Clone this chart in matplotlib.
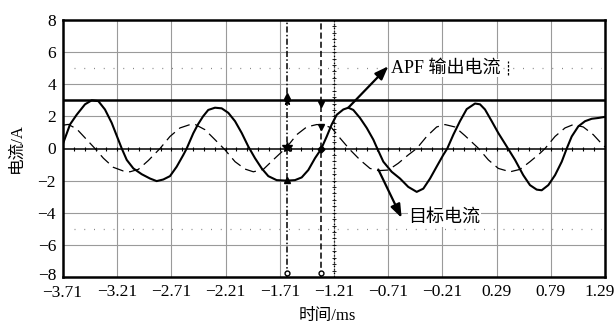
import numpy as np
import matplotlib
matplotlib.use("Agg")
import matplotlib.pyplot as plt
import matplotlib.transforms as mtransforms

# ---------------- data ----------------
x_ticks = [-3.71, -3.21, -2.71, -2.21, -1.71, -1.21, -0.71, -0.21, 0.29, 0.79, 1.29]
x_tick_labels = ["−3.71", "−3.21", "−2.71", "−2.21", "−1.71", "−1.21", "−0.71", "−0.21", "0.29", "0.79", "1.29"]
y_ticks = [-8, -6, -4, -2, 0, 2, 4, 6, 8]
y_tick_labels = ["−8", "−6", "−4", "−2", "0", "2", "4", "6", "8"]

# APF output current (solid)
apf_t = [-3.71, -3.645, -3.584, -3.507, -3.445, -3.384, -3.323, -3.261, -3.200, -3.168,
         -3.122, -3.061, -2.984, -2.907, -2.846, -2.785, -2.723, -2.661, -2.600, -2.569,
         -2.508, -2.465, -2.418, -2.370, -2.308, -2.246, -2.185, -2.123, -2.061, -2.001,
         -1.939, -1.877, -1.816, -1.739, -1.646, -1.570, -1.508, -1.447, -1.385, -1.330,
         -1.277, -1.231, -1.185, -1.124, -1.078, -1.032, -0.970, -0.908, -0.847, -0.811,
         -0.755, -0.678, -0.601, -0.525, -0.447, -0.386, -0.324, -0.263, -0.202, -0.165,
         -0.109, -0.048, 0.014, 0.091, 0.137, 0.183, 0.245, 0.306, 0.383, 0.460,
         0.536, 0.598, 0.660, 0.706, 0.767, 0.829, 0.891, 0.937, 0.983, 1.044,
         1.106, 1.167, 1.228, 1.29]
apf_i = [0.3, 1.5, 2.1, 2.75, 3.0, 2.95, 2.43, 1.6, 0.55, 0.0,
         -0.71, -1.24, -1.6, -1.87, -2.03, -1.93, -1.72, -1.13, -0.4, 0.0,
         0.95, 1.5, 2.0, 2.4, 2.54, 2.5, 2.22, 1.7, 0.96, 0.13,
         -0.6, -1.24, -1.72, -1.97, -2.0, -1.97, -1.8, -1.34, -0.6, -0.05,
         0.75, 1.5, 2.1, 2.43, 2.54, 2.4, 1.9, 1.28, 0.55, 0.0,
         -0.82, -1.45, -1.87, -2.39, -2.7, -2.5, -1.87, -1.13, -0.4, 0.0,
         0.86, 1.7, 2.45, 2.8, 2.75, 2.43, 1.7, 0.96, 0.13, -0.71,
         -1.66, -2.28, -2.56, -2.6, -2.28, -1.66, -0.82, 0.0, 0.75, 1.38,
         1.7, 1.85, 1.9, 1.97]

# target current (dashed)
ref_t = [-3.71, -3.661, -3.584, -3.491, -3.415, -3.338, -3.246, -3.154, -3.092, -3.015,
         -2.923, -2.815, -2.723, -2.631, -2.538, -2.492, -2.400, -2.308, -2.216, -2.123,
         -2.031, -1.954, -1.862, -1.754, -1.646, -1.554, -1.462, -1.370, -1.309, -1.231,
         -1.155, -1.062, -0.970, -0.878, -0.801, -0.709, -0.617, -0.525, -0.447, -0.355,
         -0.263, -0.186, -0.094, -0.002, 0.121, 0.214, 0.306, 0.414, 0.506, 0.598,
         0.690, 0.737, 0.829, 0.921, 0.998, 1.090, 1.182, 1.260, 1.29]
ref_i = [1.45, 1.5, 1.22, 0.55, 0.0, -0.6, -1.17, -1.4, -1.45, -1.3,
         -0.75, 0.0, 0.75, 1.28, 1.49, 1.5, 1.17, 0.55, -0.08, -0.82,
         -1.28, -1.45, -1.3, -0.6, 0.08, 0.86, 1.34, 1.49, 1.47, 1.28,
         0.65, -0.08, -0.71, -1.24, -1.38, -1.34, -0.92, -0.4, 0.0, 0.75,
         1.34, 1.49, 1.34, 0.8, 0.02, -0.71, -1.24, -1.45, -1.3, -0.82,
         -0.3, 0.0, 0.75, 1.28, 1.49, 1.34, 0.86, 0.29, 0.1]

limit_level = 3.0
cursor_a = -1.646   # dash-dot cursor
cursor_b = -1.333   # dashed cursor
center_t = -1.21    # dotted centre axis

label_apf = "APF 输出电流"
label_ref = "目标电流"
xlabel = "时间/ms"
ylabel = "电流/A"

# ---------------- figure ----------------
fam = ["Liberation Serif", "Noto Sans CJK SC", "DejaVu Sans"]
plt.rcParams["font.family"] = fam

fig = plt.figure(figsize=(6.16, 3.23), dpi=100)
ax = fig.add_axes([63/616, 1-277/323, (605-63)/616, (277-20)/323])
ax.set_xlim(-3.71, 1.29)
ax.set_ylim(-8, 8)

# grid
for xt in x_ticks[1:-1]:
    ax.axvline(xt, color="#9a9a9a", lw=0.8, zorder=1)
for yt in [-6, -4, -2, 2, 4, 6]:
    ax.axhline(yt, color="#9a9a9a", lw=0.8, zorder=1)
for yt in [5, -5]:
    ax.plot([-3.61, 1.25], [yt, yt], color="#888888", lw=0.9,
            linestyle=(0, (0.8, 7.0)), zorder=1)

# zero axis with minor ticks
ax.axhline(0, color="black", lw=1.1, zorder=2)
mt = np.arange(-3.61, 1.25, 0.1)
ax.plot(mt, np.zeros_like(mt), linestyle="none", marker="|", ms=3.5,
        color="black", mew=0.8, zorder=2)

# centre vertical dotted axis
ax.axvline(center_t, color="black", lw=0.9, linestyle=(0, (1, 1.8)), zorder=2)
mv = np.arange(-7.6, 7.7, 0.4)
ax.plot(np.full_like(mv, center_t), mv, linestyle="none", marker="_", ms=2.5,
        color="black", mew=0.6, zorder=2)

# limit line
ax.axhline(limit_level, color="black", lw=1.8, zorder=3)

# curves
ax.plot(ref_t, ref_i, color="black", lw=0.9, linestyle=(0, (9, 4.5)), zorder=4)
ax.plot(apf_t, apf_i, color="black", lw=1.5, zorder=5)

# cursors
ax.axvline(cursor_a, color="black", lw=1.1, linestyle=(0, (4, 1.5, 1, 1.5)), zorder=4)
ax.axvline(cursor_b, color="black", lw=1.1, linestyle=(0, (4, 2)), zorder=4)

mk = dict(color="black", linestyle="none", zorder=6)
ax.plot([cursor_a], [3.25], marker="^", ms=4, **mk)
ax.plot([cursor_a], [2.95], marker="*", ms=5, **mk)
ax.plot([cursor_a], [0.1], marker="*", ms=7, **mk)
ax.plot([cursor_a], [-1.95], marker="^", ms=5, **mk)
ax.plot([cursor_b], [2.8], marker="v", ms=5, **mk)
ax.plot([cursor_b], [1.35], marker="v", ms=5, **mk)
ax.plot([cursor_b], [0.0], marker="D", ms=3.5, **mk)
for c in (cursor_a, cursor_b):
    ax.plot([c], [-7.75], marker="o", ms=3.5, mfc="white", mec="black", mew=1,
            linestyle="none", zorder=6)

# annotations
arrow = dict(arrowstyle="-|>,head_length=0.8,head_width=0.3", color="black", lw=1.6,
             shrinkA=0, shrinkB=0)
ax.annotate("", xy=(-0.709, 5.12), xytext=(-1.078, 2.54), arrowprops=arrow, zorder=7)
ax.text(-0.687, 5.02, label_apf, fontsize=13, va="center", ha="left",
        family=fam, zorder=7,
        bbox=dict(facecolor="white", edgecolor="none", pad=0.5))
ax.plot([0.395, 0.395], [4.55, 5.45], color="black", lw=0.9,
        linestyle=(0, (2, 1.2)), zorder=7)
ax.annotate("", xy=(-0.586, -4.32), xytext=(-0.801, -1.31), arrowprops=arrow, zorder=7)
ax.text(-0.525, -4.3, label_ref, fontsize=13, va="center", ha="left",
        family=fam, zorder=7,
        bbox=dict(facecolor="white", edgecolor="none", pad=0.5))

# axes styling
ax.set_xticks(x_ticks)
ax.set_xticklabels(x_tick_labels)
ax.set_yticks(y_ticks)
ax.set_yticklabels(y_tick_labels)
ax.tick_params(length=0, labelsize=12.5)
ax.tick_params(axis="x", pad=5)
ax.tick_params(axis="y", pad=5)
for s in ax.spines.values():
    s.set_linewidth(1.8)
    s.set_zorder(8)

# nudge the outermost labels a little, as in the reference
xl = ax.get_xticklabels()
xl[-1].set_transform(xl[-1].get_transform() +
                     mtransforms.ScaledTranslation(-5/100, 0, fig.dpi_scale_trans))
xl[0].set_transform(xl[0].get_transform() +
                    mtransforms.ScaledTranslation(-1/100, -1/100, fig.dpi_scale_trans))
yl = ax.get_yticklabels()
yl[0].set_transform(yl[0].get_transform() +
                    mtransforms.ScaledTranslation(0, 3/100, fig.dpi_scale_trans))

ax.set_xlabel(xlabel, fontsize=12, labelpad=5, x=(327-63)/542)
ax.set_ylabel(ylabel, fontsize=12, labelpad=9)

fig.savefig("out.png", dpi=100)
